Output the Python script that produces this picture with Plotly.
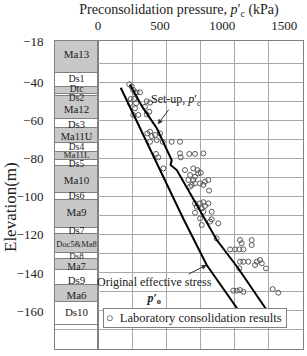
import plotly.graph_objects as go

# ---- strata column ----
layer_names = ["Ma13", "Ds1", "Dtc", "Ds2", "Ma12", "Ds3", "Ma11U", "Ds4", "Ma11L", "Ds5",
               "Ma10", "Ds6", "Ma9", "Ds7", "Doc5&Ma8", "Ds8", "Ma7", "Ds9", "Ma6", "Ds10"]
layer_top = [-18, -35, -42, -46, -47, -59, -64, -71.5, -76.5, -80.5,
             -84, -98, -101.5, -116.5, -119.5, -129.5, -132.5, -138.5, -146.5, -155.5]
layer_bottom = [-35, -42, -46, -47, -59, -64, -71.5, -76.5, -80.5, -84,
                -98, -101.5, -116.5, -119.5, -129.5, -132.5, -138.5, -146.5, -155.5, -167.5]
layer_clay = [True, False, True, False, True, False, True, False, True, False,
              True, False, True, False, True, False, True, False, True, False]
label_elev = [-25.4, -38.5, -43.7, -48.2, -54.3, -62.2, -68.7, -74.1, -78.6, -83.0,
              -91.6, -99.9, -108.7, -118.0, -125.3, -131.6, -137.0, -144.1, -152.1, -161.2]
label_size = [11, 10, 9.5, 9.5, 11, 10.5, 10.5, 9.5, 9, 9.5,
              11, 10, 11, 10, 8.5, 9, 10, 11, 11, 11]

# ---- curves ----
eff_kpa = [183, 338, 499, 684, 875, 1014, 1157]
eff_elev = [-42.6, -63.8, -85.9, -111.1, -135.8, -149.0, -162.1]

setup_kpa = [258, 362, 473, 526, 593, 584, 634, 741, 848, 956, 1127, 1256, 1385]
setup_elev = [-41.1, -53.2, -63.9, -70.9, -80.6, -83.2, -85.9, -98.1, -110.4, -122.7, -137.4, -150.0, -162.1]

# ---- laboratory results ----
lab_kpa = [252, 271, 284, 298, 311, 338, 263, 290, 306, 392, 419, 378, 413, 325, 392, 258, 298, 284,
           397, 419, 432, 459, 499, 419, 472, 521, 593, 660,
           467, 486, 660, 666, 735, 781, 848,
           526, 700, 767, 800, 827,
           741, 807, 781, 727, 767, 888, 861, 754, 781, 821, 848, 741, 894,
           781, 821, 848, 888, 795, 835, 861, 781, 848, 915, 821, 915, 968, 835, 902,
           955, 1143, 1157, 1237, 1237, 1063, 1103, 1137, 1170,
           1143, 1170, 1210, 1278, 1304, 1318, 1264, 1352, 1137,
           1089, 1117, 1143, 1170, 1406, 1451]
lab_elev = [-40.8, -42.0, -43.8, -45.2, -45.0, -45.0, -48.5, -48.5, -50.8, -49.7, -50.4, -52.6, -55.2, -56.9, -56.6, -50.8, -53.4, -56.9,
            -66.6, -65.7, -68.0, -67.4, -66.6, -71.0, -70.1, -71.0, -71.0, -71.0,
            -77.4, -79.2, -77.1, -79.2, -77.4, -77.4, -77.1,
            -85.0, -85.9, -85.0, -85.9, -87.3,
            -88.5, -87.6, -89.4, -91.1, -91.1, -91.1, -92.0, -93.7, -92.9, -92.9, -93.7, -94.6, -96.7,
            -103.4, -103.4, -102.8, -103.4, -105.2, -106.0, -104.8, -108.3, -107.8, -107.8, -111.3, -111.8, -113.9, -114.8, -113.0,
            -121.8, -122.7, -124.4, -122.7, -125.3, -127.6, -127.6, -127.6, -127.6,
            -134.1, -134.1, -134.1, -134.1, -133.2, -134.9, -135.8, -137.6, -137.6,
            -149.3, -149.3, -149.0, -149.9, -148.5, -150.4]

x_ticks = [0, 500, 1000, 1500]
x_grid = [275, 550, 825, 1100, 1375]
y_ticks = [-18, -40, -60, -80, -100, -120, -140, -160, -180]
y_grid = [-30, -50, -70, -90, -110, -130, -150, -170]

SERIF = "Liberation Serif"
GRID = "#a8a8a8"
LINE = "#808080"
TXT = "#222222"

fig = go.Figure()

fig.add_trace(go.Bar(
    x=[0.5] * len(layer_names),
    y=[t - b for t, b in zip(layer_top, layer_bottom)],
    base=layer_bottom,
    width=1,
    marker=dict(color=["#c8c8c8" if c else "white" for c in layer_clay],
                line=dict(color=LINE, width=1)),
    xaxis="x", yaxis="y", showlegend=False, hoverinfo="skip",
))

fig.add_trace(go.Scatter(
    x=[0.5] * len(layer_names), y=label_elev, text=layer_names, mode="text",
    textfont=dict(family=SERIF, size=label_size, color=TXT),
    xaxis="x", yaxis="y", showlegend=False, hoverinfo="skip",
))

fig.add_trace(go.Scatter(
    x=lab_kpa, y=lab_elev, mode="markers", name="Laboratory consolidation results",
    marker=dict(symbol="circle-open", size=5, color="#5a5a5a", line=dict(width=1)),
    xaxis="x2", yaxis="y", showlegend=False,
))
fig.add_trace(go.Scatter(
    x=eff_kpa, y=eff_elev, mode="lines", line=dict(color="black", width=2),
    xaxis="x2", yaxis="y", showlegend=False,
))
fig.add_trace(go.Scatter(
    x=setup_kpa, y=setup_elev, mode="lines", line=dict(color="black", width=2),
    xaxis="x2", yaxis="y", showlegend=False,
))

col_frac = 43 / 248

fig.update_layout(
    width=307, height=356,
    margin=dict(l=55, r=4, t=41, b=7),
    paper_bgcolor="white", plot_bgcolor="white",
    barmode="overlay", bargap=0,
    font=dict(family=SERIF, color=TXT),
    title=dict(text="Preconsolidation pressure, <i>p</i>′<sub>c</sub> (kPa)",
               x=0.5, xref="paper", xanchor="center",
               y=1 - 9.5 / 356, yref="container", yanchor="middle",
               font=dict(family=SERIF, size=14, color=TXT)),
    xaxis=dict(domain=[0, col_frac], range=[0, 1], showgrid=False, zeroline=False,
               showticklabels=False, ticks="", showline=True, mirror=True,
               linecolor=LINE, linewidth=1, anchor="y", fixedrange=True),
    xaxis2=dict(domain=[col_frac, 1], range=[0, 1650], side="top", anchor="y",
                tickvals=x_ticks, ticks="", showgrid=False, zeroline=False,
                ticklabelstandoff=5,
                tickfont=dict(family=SERIF, size=13, color=TXT),
                minor=dict(tickvals=x_grid, showgrid=True, gridcolor=GRID, gridwidth=1, ticks=""),
                showline=True, mirror=True, linecolor=LINE, linewidth=1),
    yaxis=dict(range=[-180, -18], tickvals=y_ticks, ticks="", zeroline=False,
               showgrid=True, gridcolor=GRID, gridwidth=1,
               minor=dict(tickvals=y_grid, showgrid=True, gridcolor=GRID, gridwidth=1, ticks=""),
               ticklabelstandoff=8,
               tickfont=dict(family=SERIF, size=13, color=TXT),
               showline=True, mirror="all", linecolor=LINE, linewidth=1, anchor="x"),
    hovermode=False,
    annotations=[
        dict(text="Elevation(m)", xref="paper", yref="paper",
             x=(10 - 55) / 248, y=(349 - 207) / 308, textangle=-90, showarrow=False,
             font=dict(family=SERIF, size=17, color=TXT), xanchor="center", yanchor="middle"),
        dict(text="Set-up, <i>p</i>′<sub>c</sub>", x=481, y=-61.8, xref="x2", yref="y",
             ax=18, ay=-24, showarrow=True, arrowhead=2, arrowsize=1, arrowwidth=1,
             arrowcolor="#333", font=dict(family=SERIF, size=12, color=TXT)),
        dict(text="Original effective stress<br><b><i>p</i>′<sub>o</sub></b>", x=875, y=-135.8,
             xref="x2", yref="y", ax=-52, ay=26, showarrow=True, arrowhead=2, arrowsize=1,
             arrowwidth=1, arrowcolor="#333", font=dict(family=SERIF, size=12, color=TXT)),
        dict(text="○  Laboratory consolidation results", xref="paper", yref="paper",
             x=(194.5 - 55) / 248, y=(349 - 328) / 308, showarrow=False,
             bordercolor=LINE, borderwidth=1, borderpad=2, bgcolor="white",
             width=178, height=14, align="left",
             font=dict(family=SERIF, size=12.5, color=TXT)),
    ],
)

fig.write_html("out.html")
